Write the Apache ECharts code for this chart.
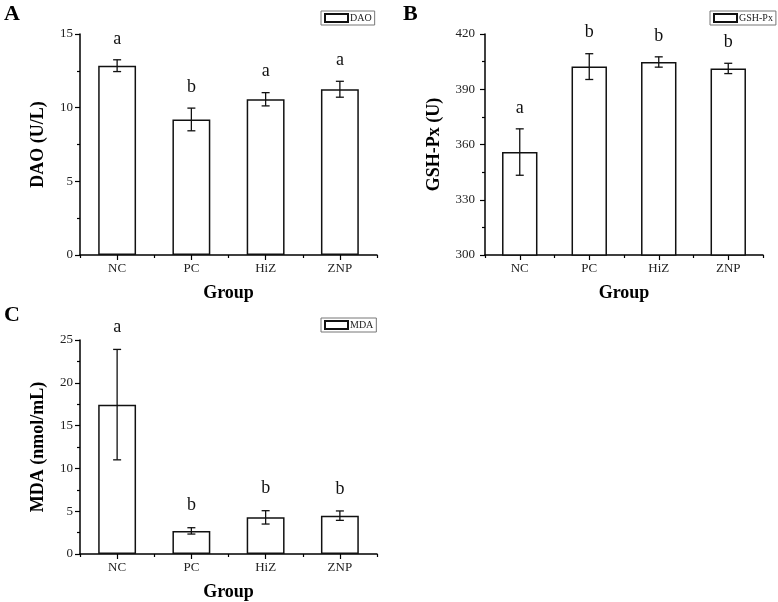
<!DOCTYPE html>
<html>
<head>
<meta charset="utf-8">
<script src="https://cdn.jsdelivr.net/npm/echarts@6/dist/echarts.min.js"></script>
<style>html,body{margin:0;padding:0;background:#fff;}#c{width:778px;height:602px;}</style>
</head>
<body>
<div id="c"></div>
<script>
const categories = ['NC', 'PC', 'HiZ', 'ZNP'];
const daoMean = [12.85, 9.2, 10.57, 11.25];
const daoErr = [0.4, 0.77, 0.45, 0.54];
const daoLetters = ['a', 'b', 'a', 'a'];
const gshMean = [355.9, 402.3, 404.8, 401.3];
const gshErr = [12.6, 7.0, 2.8, 2.8];
const gshLetters = ['a', 'b', 'b', 'b'];
const mdaMean = [17.45, 2.7, 4.28, 4.48];
const mdaErr = [6.45, 0.37, 0.78, 0.55];
const mdaLetters = ['a', 'b', 'b', 'b'];

const FONT = '"Liberation Serif", "Times New Roman", serif';
const chart = echarts.init(document.getElementById('c'), null, {renderer: 'canvas'});

const panels = [
  {name: 'DAO', yName: 'DAO (U/L)', mean: daoMean, err: daoErr, letters: daoLetters,
   min: 0, max: 15, interval: 5, grid: {left: 80, top: 34, width: 297, height: 221},
   nameGap: 33, labelMargin: 7, legend: {left: 321, top: 11}, title: {text: 'A', left: 4, top: 3}, letterOff: 21},
  {name: 'GSH-Px', yName: 'GSH-Px (U)', mean: gshMean, err: gshErr, letters: gshLetters,
   min: 300, max: 420, interval: 30, grid: {left: 485, top: 34, width: 278, height: 221},
   nameGap: 42, labelMargin: 10, legend: {left: 710, top: 11}, title: {text: 'B', left: 403, top: 3}, letterOff: 21},
  {name: 'MDA', yName: 'MDA (nmol/mL)', mean: mdaMean, err: mdaErr, letters: mdaLetters,
   min: 0, max: 25, interval: 5, grid: {left: 80, top: 340, width: 297, height: 214},
   nameGap: 33, labelMargin: 7, legend: {left: 321, top: 318}, title: {text: 'C', left: 4, top: 304}, letterOff: 22}
];

const option = {
  backgroundColor: '#fff',
  animation: false,
  title: [], legend: [], grid: [], xAxis: [], yAxis: [], series: []
};

panels.forEach((p, i) => {
  option.title.push({text: p.title.text, left: p.title.left, top: p.title.top, padding: 0,
    textStyle: {fontFamily: FONT, fontWeight: 'bold', fontSize: 22, color: '#000'}});
  option.legend.push({
    data: [p.name], left: p.legend.left, top: p.legend.top, orient: 'horizontal',
    padding: [2, 3, 2, 3], borderColor: '#777', borderWidth: 1, borderRadius: 0,
    itemWidth: 23, itemHeight: 8, icon: 'rect', selectedMode: false,
    textStyle: {fontFamily: FONT, fontSize: 10, color: '#222', padding: [0, 0, 0, -3]}
  });
  option.grid.push(Object.assign({containLabel: false}, p.grid));
  option.xAxis.push({
    type: 'category', gridIndex: i, data: categories, name: 'Group', nameLocation: 'middle', nameGap: 29,
    nameTextStyle: {fontFamily: FONT, fontWeight: 'bold', fontSize: 18, color: '#000'},
    axisLine: {lineStyle: {color: '#000', width: 1.5}},
    axisTick: {show: true, length: 3, lineStyle: {color: '#000', width: 1.2}},
    axisLabel: {fontFamily: FONT, fontSize: 13, color: '#222', margin: 7},
    splitLine: {show: false}
  });
  option.xAxis.push({
    type: 'category', gridIndex: i, data: categories, position: 'bottom',
    axisLine: {show: false},
    axisTick: {show: true, alignWithLabel: true, length: 5, lineStyle: {color: '#000', width: 1.2}},
    axisLabel: {show: false}, splitLine: {show: false}
  });
  option.yAxis.push({
    type: 'value', gridIndex: i, min: p.min, max: p.max, interval: p.interval,
    name: p.yName, nameLocation: 'middle', nameGap: p.nameGap,
    nameTextStyle: {fontFamily: FONT, fontWeight: 'bold', fontSize: 18, color: '#000'},
    axisLine: {show: true, lineStyle: {color: '#000', width: 1.5}},
    axisTick: {show: true, length: 5, lineStyle: {color: '#000', width: 1.2}},
    minorTick: {show: true, splitNumber: 2, length: 3, lineStyle: {color: '#000', width: 1.2}},
    axisLabel: {fontFamily: FONT, fontSize: 13, color: '#222', margin: p.labelMargin},
    splitLine: {show: false}
  });
  option.series.push({
    type: 'bar', name: p.name, xAxisIndex: i * 2, yAxisIndex: i,
    data: p.mean, barWidth: '51%',
    itemStyle: {color: '#fff', borderColor: '#111', borderWidth: 1.5},
    emphasis: {disabled: true}
  });
  const errData = p.mean.map((m, k) => [k, m, p.err[k]]);
  option.series.push({
    type: 'custom', name: p.name + '-err', xAxisIndex: i * 2, yAxisIndex: i,
    data: errData, clip: false, z: 5,
    renderItem: (params, api) => {
      const x = api.value(0), m = api.value(1), e = api.value(2);
      const hi = api.coord([x, m + e]), lo = api.coord([x, m - e]);
      const cap = 4;
      const st = {stroke: '#111', lineWidth: 1.3};
      return {
        type: 'group',
        children: [
          {type: 'line', shape: {x1: hi[0], y1: hi[1], x2: lo[0], y2: lo[1]}, style: st},
          {type: 'line', shape: {x1: hi[0] - cap, y1: hi[1], x2: hi[0] + cap, y2: hi[1]}, style: st},
          {type: 'line', shape: {x1: lo[0] - cap, y1: lo[1], x2: lo[0] + cap, y2: lo[1]}, style: st},
          {type: 'text', x: hi[0], y: hi[1] - p.letterOff,
           style: {text: p.letters[params.dataIndex], fontFamily: FONT, fontSize: 18, fill: '#111',
                   align: 'center', verticalAlign: 'middle'}}
        ]
      };
    }
  });
});

chart.setOption(option);
</script>
</body>
</html>
